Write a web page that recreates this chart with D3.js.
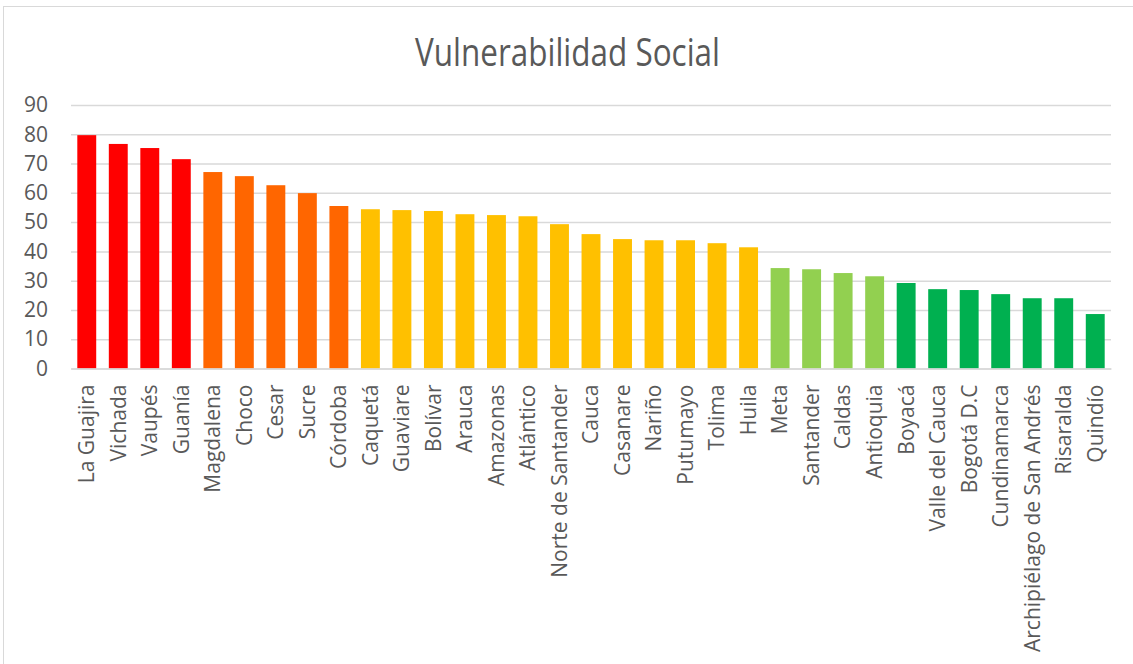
<!DOCTYPE html>
<html>
<head>
<meta charset="utf-8">
<script src="https://cdn.jsdelivr.net/npm/d3@7"></script>
<style>
  body { margin: 0; background: #fff; }
  svg { display: block; font-family: "Open Sans", sans-serif; }
</style>
</head>
<body>
<svg id="chart" width="1133" height="664"></svg>
<script>
// departments, sorted by index
var departamentos = ["La Guajira", "Vichada", "Vaupés", "Guanía", "Magdalena", "Choco", "Cesar", "Sucre",
    "Córdoba", "Caquetá", "Guaviare", "Bolívar", "Arauca", "Amazonas", "Atlántico", "Norte de Santander",
    "Cauca", "Casanare", "Nariño", "Putumayo", "Tolima", "Huila", "Meta", "Santander", "Caldas",
    "Antioquia", "Boyacá", "Valle del Cauca", "Bogotá D.C", "Cundinamarca", "Archipiélago de San Andrés",
    "Risaralda", "Quindío"];

var valores = [79.7, 76.7, 75.3, 71.5, 67.1, 65.7, 62.6, 59.9,
    55.5, 54.4, 54.1, 53.8, 52.7, 52.4, 52.0, 49.3,
    45.9, 44.2, 43.8, 43.8, 42.8, 41.4, 34.3, 33.9, 32.6,
    31.5, 29.2, 27.1, 26.8, 25.4, 24.0,
    24.0, 18.6];

// vulnerability level of each department
var niveles = ["muy alta", "muy alta", "muy alta", "muy alta", "alta", "alta", "alta", "alta",
    "alta", "media", "media", "media", "media", "media", "media", "media",
    "media", "media", "media", "media", "media", "media", "baja", "baja", "baja",
    "baja", "muy baja", "muy baja", "muy baja", "muy baja", "muy baja",
    "muy baja", "muy baja"];

var yTicks = [0, 10, 20, 30, 40, 50, 60, 70, 80, 90];

var svg = d3.select("#chart");

var margin = {left: 71, right: 22, top: 105, bottom: 295};
var width = 1133, height = 664;

// chart area border (runs off the picture on right / bottom)
svg.append("rect")
    .attr("x", 3.5).attr("y", 6.5)
    .attr("width", 1200).attr("height", 720)
    .attr("fill", "#fff")
    .attr("stroke", "#d9d9d9")
    .attr("stroke-width", 1);

var x = d3.scaleBand()
    .domain(departamentos)
    .range([margin.left, width - margin.right])
    .paddingInner(0.4)
    .paddingOuter(0.2);

var y = d3.scaleLinear()
    .domain([0, 90])
    .range([368.5, margin.top]);

var color = d3.scaleOrdinal()
    .domain(["muy alta", "alta", "media", "baja", "muy baja"])
    .range(["#ff0000", "#ff6600", "#ffc000", "#92d050", "#00b050"]);

// title
svg.append("text")
    .attr("x", 567.5)
    .attr("y", 65.5)
    .attr("text-anchor", "middle")
    .attr("textLength", 305)
    .attr("lengthAdjust", "spacingAndGlyphs")
    .style("font-size", "38px")
    .style("fill", "#595959")
    .text("Vulnerabilidad Social");

// y axis with gridlines
var yAxis = d3.axisLeft(y)
    .tickValues(yTicks)
    .tickSize(-(width - margin.right - margin.left))
    .tickPadding(23)
    .tickFormat(d3.format("d"));

var gy = svg.append("g")
    .attr("transform", "translate(" + margin.left + ",0)")
    .call(yAxis);

gy.select(".domain").remove();
gy.selectAll(".tick line")
    .attr("stroke", "#d9d9d9")
    .attr("stroke-width", 1.5);
gy.selectAll(".tick text")
    .style("font-size", "21px")
    .style("fill", "#595959")
    .style("font-family", "Open Sans, sans-serif");

// bars
svg.append("g")
    .selectAll("rect")
    .data(departamentos)
    .enter()
    .append("rect")
    .attr("x", function(d) { return x(d); })
    .attr("y", function(d, i) { return y(valores[i]); })
    .attr("width", x.bandwidth())
    .attr("height", function(d, i) { return y(0) - y(valores[i]); })
    .attr("fill", function(d, i) { return color(niveles[i]); });

// x axis
var xAxis = d3.axisBottom(x)
    .tickSize(0)
    .tickPadding(0);

var gx = svg.append("g")
    .attr("transform", "translate(0," + y(0) + ")")
    .call(xAxis);

gx.select(".domain")
    .attr("stroke", "#d9d9d9")
    .attr("stroke-width", 1.5);

gx.selectAll(".tick text")
    .attr("transform", "rotate(-90)")
    .attr("x", -16)
    .attr("y", 0)
    .attr("dy", "0.35em")
    .attr("text-anchor", "end")
    .style("font-size", "21px")
    .style("fill", "#595959")
    .style("font-family", "Open Sans, sans-serif");
</script>
</body>
</html>
